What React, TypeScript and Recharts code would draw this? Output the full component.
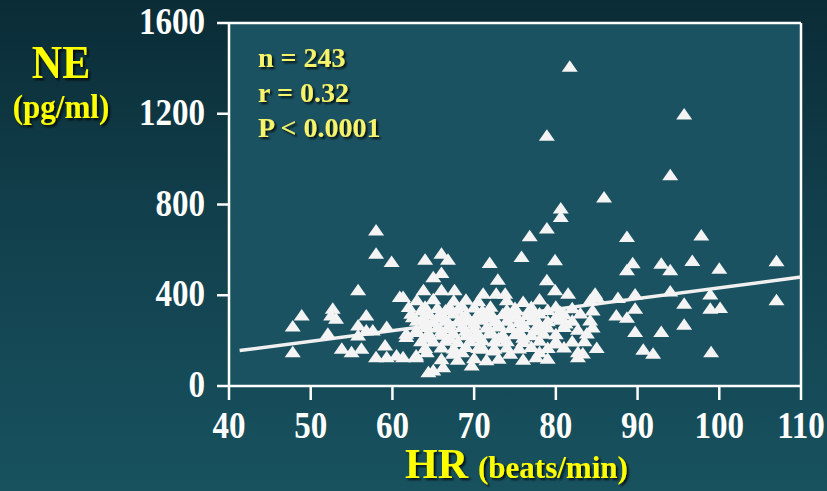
import React from 'react';
import { ScatterChart, Scatter, XAxis, YAxis, CartesianGrid, ReferenceLine } from 'recharts';

const xTicks = [40, 50, 60, 70, 80, 90, 100, 110];
const yTicks = [0, 400, 800, 1200, 1600];
const statsLines = ['n = 243', 'r = 0.32', 'P < 0.0001'];
const fitLine = [{ hr: 41.3, ne: 156 }, { hr: 110, ne: 480 }];

// [HR, NE] pairs
const highPoints: [number, number][] = [
  [81.7, 1409], [95.7, 1199], [78.9, 1105], [94.0, 931], [85.9, 833], [80.6, 785], [80.6, 747],
  [88.7, 659], [97.8, 666], [78.9, 696], [76.8, 662], [58.0, 688], [58.0, 585], [59.9, 549],
  [75.8, 571], [79.9, 556], [71.9, 544], [64.0, 559], [66.0, 585], [66.8, 559], [65.0, 482],
  [66.0, 500], [72.9, 471], [78.9, 468],
];

const rightPoints: [number, number][] = [
  [89.4, 543], [88.7, 512], [92.9, 541], [94.0, 512], [96.7, 553], [100.0, 519], [107.0, 552],
  [84.8, 409], [87.6, 390], [89.7, 405], [94.0, 419], [98.9, 405], [107.0, 380], [95.7, 365],
  [98.9, 343], [100.1, 346], [89.7, 343], [87.4, 313], [88.7, 303], [95.7, 272], [89.7, 240],
  [92.9, 240], [90.7, 162], [91.9, 144], [99.0, 151], [84.2, 380], [84.5, 335], [84.2, 291],
  [83.8, 234], [83.3, 146], [79.9, 424], [81.5, 409], [85.0, 394], [80.5, 330], [81.2, 278],
  [82.7, 250], [80.0, 190], [83.5, 200], [84.5, 260], [85.0, 170], [82.7, 151], [82.7, 129],
];

const leftPoints: [number, number][] = [
  [55.8, 424], [60.9, 394], [61.3, 394], [48.9, 313], [47.8, 265], [52.7, 343], [52.5, 313],
  [53.1, 299], [52.1, 233], [56.8, 313], [55.8, 269], [55.8, 225], [47.8, 151], [53.8, 166],
  [55.0, 151], [56.2, 166], [59.1, 181], [58.0, 129], [59.3, 129], [60.5, 137], [62.9, 129],
  [64.2, 151], [61.7, 233], [62.9, 247], [64.2, 262], [62.3, 321], [63.8, 306], [64.4, 63],
  [59.3, 262], [57.6, 247], [56.8, 247], [61.3, 129], [62.9, 137], [62.9, 240], [61.7, 218],
  [63.8, 424], [66.0, 424], [67.6, 424], [71.1, 409], [72.7, 409], [73.8, 409],
];

const clusterPoints: [number, number][] = [
  [65.0, 71], [66.2, 85], [69.7, 93], [74.4, 144], [77.6, 129], [78.0, 151], [67.4, 144],
  [68.5, 151], [71.1, 166], [72.3, 159],
  [63.0, 380], [65.0, 385], [67.5, 378], [69.0, 382], [70.5, 376], [74.0, 380], [76.0, 372], [78.0, 384],
  [62.0, 350], [64.0, 352], [65.5, 346], [67.0, 350], [68.5, 355], [70.0, 348], [72.0, 352], [75.0, 346], [77.0, 350], [80.0, 352], [82.0, 345],
  [64.5, 320], [66.0, 318], [67.5, 322], [69.0, 316], [70.5, 320], [72.0, 324], [73.5, 318], [75.0, 320], [76.5, 315], [78.0, 322], [81.0, 318], [83.0, 322],
  [63.0, 290], [65.0, 288], [66.5, 292], [68.0, 286], [69.5, 290], [71.0, 294], [72.5, 288], [74.0, 290], [75.5, 284], [77.0, 292], [79.0, 288], [80.5, 294], [82.0, 290],
  [65.5, 260], [67.0, 258], [68.5, 262], [70.0, 256], [71.5, 260], [73.0, 264], [74.5, 258], [76.0, 262], [77.5, 256], [79.0, 260], [81.0, 262],
  [64.5, 230], [66.0, 228], [67.5, 232], [69.0, 226], [70.5, 230], [72.0, 234], [73.5, 228], [75.0, 230], [77.0, 226], [78.5, 232], [80.0, 230],
  [63.5, 200], [65.0, 198], [66.5, 202], [68.0, 196], [69.5, 200], [71.0, 204], [72.5, 198], [74.0, 200], [76.0, 196], [78.0, 202], [80.0, 200], [82.0, 198],
  [64.0, 170], [66.0, 172], [67.5, 168], [69.0, 174], [70.5, 170], [72.5, 166], [74.0, 172], [75.5, 168], [77.0, 174], [79.0, 170], [81.0, 172],
  [66.0, 120], [68.0, 118], [70.0, 124], [71.5, 116], [73.0, 122], [76.0, 118], [79.0, 122],
];

const corePoints: [number, number][] = [
  [63.5, 335], [66.5, 335], [68.0, 338], [71.0, 334], [74.0, 336], [77.0, 332], [79.0, 337],
  [62.5, 305], [65.5, 305], [68.5, 302], [71.5, 306], [74.5, 304], [77.5, 300], [80.0, 306],
  [64.0, 275], [67.0, 274], [70.0, 277], [73.0, 273], [76.0, 276], [78.0, 272],
  [63.0, 245], [66.0, 244], [69.0, 246], [72.0, 243], [75.5, 245], [78.0, 247],
  [64.0, 215], [67.0, 214], [70.0, 216], [73.0, 213], [76.0, 215],
];

const toRows = (pairs: [number, number][]) => pairs.map(([hr, ne]) => ({ hr, ne }));
const allPoints = [
  ...toRows(highPoints),
  ...toRows(rightPoints),
  ...toRows(leftPoints),
  ...toRows(clusterPoints),
  ...toRows(corePoints),
];

const SERIF = '"Liberation Serif", "Times New Roman", serif';

const Triangle = (props: any) => {
  const { cx, cy } = props;
  if (cx == null || cy == null) return null;
  return (
    <polygon
      points={`${cx},${cy - 6} ${cx - 8},${cy + 5.5} ${cx + 8},${cy + 5.5}`}
      fill="#f4f4f4"
    />
  );
};

const YTick = (props: any) => {
  const { x, y, payload } = props;
  return (
    <text
      transform={`translate(${x},${y + 11}) scale(0.87,1)`}
      textAnchor="end"
      fontFamily={SERIF}
      fontWeight="bold"
      fontSize={38}
      fill="#ffffff"
    >
      {payload.value}
    </text>
  );
};

const XTick = (props: any) => {
  const { x, y, payload } = props;
  return (
    <text
      transform={`translate(${x},${y + 36}) scale(0.87,1)`}
      textAnchor="middle"
      fontFamily={SERIF}
      fontWeight="bold"
      fontSize={38}
      fill="#ffffff"
    >
      {payload.value}
    </text>
  );
};

const ShadowText = ({ x, y, size, anchor = 'start', fill, sy = 1, children }: any) => (
  <text
    transform={`translate(${x},${y}) scale(1,${sy})`}
    textAnchor={anchor}
    fontFamily={SERIF}
    fontWeight="bold"
    fontSize={size}
    fill={fill}
    filter="url(#txtShadow)"
  >
    {children}
  </text>
);

export default function App() {
  return (
    <div
      style={{
        position: 'absolute',
        left: 0,
        top: 0,
        width: 827,
        height: 491,
        overflow: 'hidden',
        background: 'linear-gradient(to bottom, #0a2c36 0%, #11404c 45%, #18525f 100%)',
      }}
    >
      <ScatterChart width={827} height={491} margin={{ top: 23, right: 26, bottom: 75, left: 169 }}>
        <CartesianGrid fill="#1b5261" horizontal={false} vertical={false} stroke="none" />
        <XAxis
          type="number"
          dataKey="hr"
          domain={[40, 110]}
          ticks={xTicks}
          allowDataOverflow
          height={30}
          tickSize={14}
          tick={<XTick />}
          axisLine={{ stroke: '#ffffff', strokeWidth: 2.5 }}
          tickLine={{ stroke: '#ffffff', strokeWidth: 2.5 }}
        />
        <YAxis
          type="number"
          dataKey="ne"
          domain={[0, 1600]}
          ticks={yTicks}
          allowDataOverflow
          width={60}
          tickSize={12}
          tickMargin={12}
          tick={<YTick />}
          axisLine={{ stroke: '#ffffff', strokeWidth: 2.5 }}
          tickLine={{ stroke: '#ffffff', strokeWidth: 2.5 }}
        />
        <ReferenceLine y={1600} stroke="#ffffff" strokeWidth={2.5} />
        <ReferenceLine x={110} stroke="#ffffff" strokeWidth={2.5} />
        <ReferenceLine
          segment={[{ x: fitLine[0].hr, y: fitLine[0].ne }, { x: fitLine[1].hr, y: fitLine[1].ne }]}
          stroke="#f0f0f0"
          strokeWidth={3.5}
        />
        <Scatter data={allPoints} shape={<Triangle />} isAnimationActive={false} />
      </ScatterChart>
      <svg
        width={827}
        height={491}
        style={{ position: 'absolute', left: 0, top: 0, pointerEvents: 'none' }}
      >
        <defs>
          <filter id="txtShadow" x="-20%" y="-20%" width="140%" height="160%">
            <feDropShadow dx={2} dy={2} stdDeviation={0.8} floodColor="#000000" floodOpacity={0.8} />
          </filter>
        </defs>
        <ShadowText x={61} y={78} size={42} anchor="middle" fill="#ffff00" sy={1.08}>NE</ShadowText>
        <ShadowText x={61} y={118} size={31} anchor="middle" fill="#ffff00" sy={1.1}>(pg/ml)</ShadowText>
        {statsLines.map((line, i) => (
          <ShadowText key={line} x={258} y={67 + i * 35} size={28} fill="#f7f36a">
            {line}
          </ShadowText>
        ))}
        <ShadowText x={405} y={478} size={42} fill="#ffff00">HR</ShadowText>
        <ShadowText x={478} y={478} size={31} fill="#ffff00">(beats/min)</ShadowText>
      </svg>
    </div>
  );
}
